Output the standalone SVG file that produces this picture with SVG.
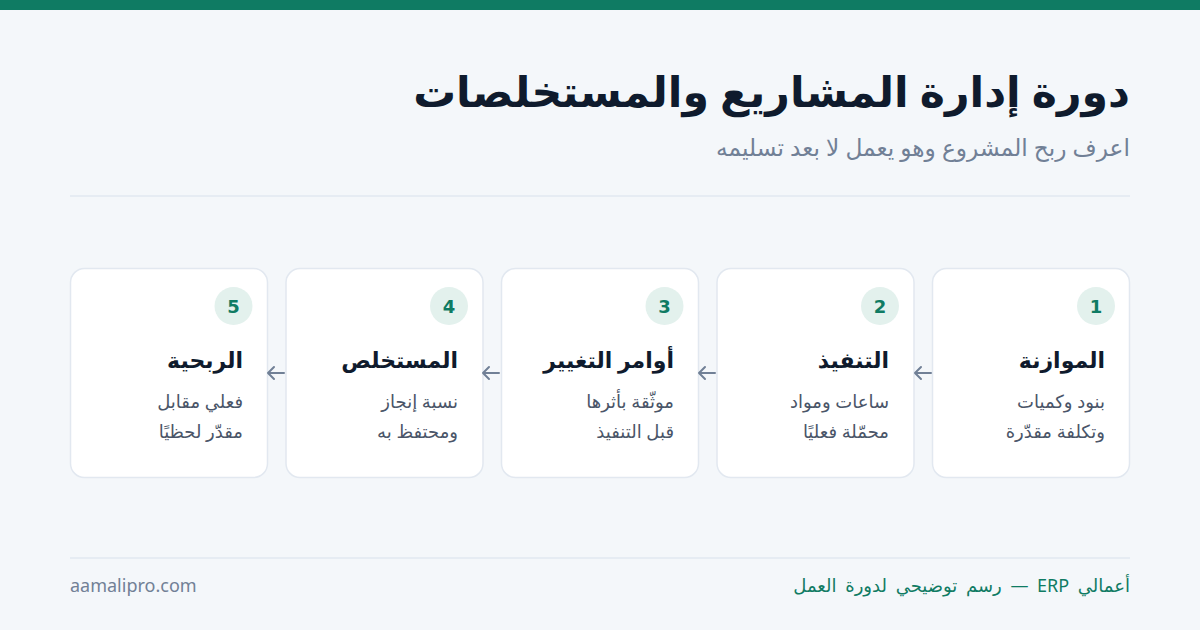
<svg xmlns="http://www.w3.org/2000/svg" width="1200" height="630" viewBox="0 0 1200 630">
<defs>
<style>
text{font-family:"Noto Sans","DejaVu Sans",sans-serif}
.rtl{direction:rtl;text-anchor:start}
.title{font-size:42.7px;font-weight:bold;fill:#0f1b2d}
.sub{font-size:23.3px;fill:#718096}
.card{fill:#ffffff;stroke:#e2e8f0;stroke-width:1.5}
.badge{fill:#e3f1ed}
.num{font-family:"DejaVu Sans",sans-serif;font-size:18px;font-weight:bold;fill:#0f7b63;text-anchor:middle}
.ct{font-size:22px;font-weight:bold;fill:#0f1b2d}
.cd{font-size:18px;fill:#4a5568}
.arrow{fill:none;stroke:#718096;stroke-width:2;stroke-linecap:round;stroke-linejoin:round}
</style>
</defs>
<rect width="1200" height="630" fill="#f4f7fa"/>
<rect width="1200" height="10" fill="#0f7b63"/>
<text class="title rtl" x="1130" y="107">دورة إدارة المشاريع والمستخلصات</text>
<text class="sub rtl" x="1130" y="156">اعرف ربح المشروع وهو يعمل لا بعد تسليمه</text>
<line x1="70" y1="196" x2="1130" y2="196" stroke="#e2e8f0" stroke-width="1.5"/>

<g id="node1">
<rect class="card" x="932.5" y="268.5" width="197" height="209" rx="14"/>
<circle class="badge" cx="1096" cy="306" r="19"/>
<text class="num" x="1096" y="313">1</text>
<text class="ct rtl" x="1105" y="368">الموازنة</text>
<text class="cd rtl" x="1105" y="408">بنود وكميات</text>
<text class="cd rtl" x="1105" y="438">وتكلفة مقدّرة</text>
</g>
<g id="node2">
<rect class="card" x="717" y="268.5" width="197" height="209" rx="14"/>
<circle class="badge" cx="880" cy="306" r="19"/>
<text class="num" x="880" y="313">2</text>
<text class="ct rtl" x="889" y="368">التنفيذ</text>
<text class="cd rtl" x="889" y="408">ساعات ومواد</text>
<text class="cd rtl" x="889" y="438">محمّلة فعليًا</text>
</g>
<g id="node3">
<rect class="card" x="501.5" y="268.5" width="197" height="209" rx="14"/>
<circle class="badge" cx="664.5" cy="306" r="19"/>
<text class="num" x="664.5" y="313">3</text>
<text class="ct rtl" x="674" y="368">أوامر التغيير</text>
<text class="cd rtl" x="674" y="408">موثّقة بأثرها</text>
<text class="cd rtl" x="674" y="438">قبل التنفيذ</text>
</g>
<g id="node4">
<rect class="card" x="286" y="268.5" width="197" height="209" rx="14"/>
<circle class="badge" cx="449" cy="306" r="19"/>
<text class="num" x="449" y="313">4</text>
<text class="ct rtl" x="458" y="368">المستخلص</text>
<text class="cd rtl" x="458" y="408">نسبة إنجاز</text>
<text class="cd rtl" x="458" y="438">ومحتفظ به</text>
</g>
<g id="node5">
<rect class="card" x="70.5" y="268.5" width="197" height="209" rx="14"/>
<circle class="badge" cx="233.5" cy="306" r="19"/>
<text class="num" x="233.5" y="313">5</text>
<text class="ct rtl" x="243" y="368">الربحية</text>
<text class="cd rtl" x="243" y="408">فعلي مقابل</text>
<text class="cd rtl" x="243" y="438">مقدّر لحظيًا</text>
</g>

<g id="connectors">
<path class="arrow" d="M931 373H915M921 367L915 373L921 379"/>
<path class="arrow" d="M715 373H699M705 367L699 373L705 379"/>
<path class="arrow" d="M499 373H483M489 367L483 373L489 379"/>
<path class="arrow" d="M284 373H268M274 367L268 373L274 379"/>
</g>

<line x1="70" y1="558" x2="1130" y2="558" stroke="#e2e8f0" stroke-width="1.5"/>
<text x="70" y="592" font-size="18" fill="#718096">aamalipro.com</text>
<text class="rtl" x="1130" y="592" font-size="18" word-spacing="4" fill="#0f7b63">أعمالي ERP — رسم توضيحي لدورة العمل</text>
</svg>
